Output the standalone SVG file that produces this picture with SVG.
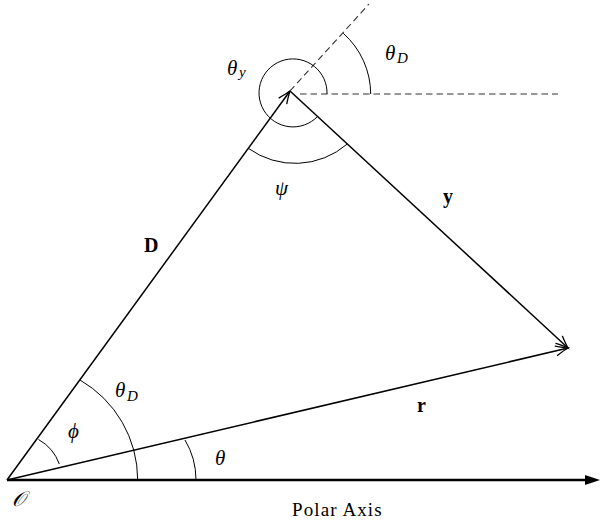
<svg xmlns="http://www.w3.org/2000/svg" width="601" height="522" viewBox="0 0 601 522">
<style>
.vec{stroke:#000;stroke-width:1.5;fill:none}
.arc{stroke:#000;stroke-width:1;fill:none}
.dash{stroke:#333;stroke-width:1.1;fill:none;stroke-dasharray:6.5 4}
.axis{stroke:#000;stroke-width:2.6;fill:none}
.m{font-family:"Liberation Serif","DejaVu Serif",serif;font-style:italic;font-size:21px;fill:#000}
.sub{font-family:"Liberation Serif","DejaVu Serif",serif;font-style:italic;font-size:15px;fill:#000}
.b{font-family:"Liberation Serif","DejaVu Serif",serif;font-weight:bold;font-size:20px;fill:#000}
.t{font-family:"Liberation Serif","DejaVu Serif",serif;font-size:19px;fill:#000;letter-spacing:1.1px}
</style>
<defs>
<marker id="open" viewBox="-14 -7 16 14" markerWidth="16" markerHeight="14" refX="0" refY="0" orient="auto" markerUnits="userSpaceOnUse" overflow="visible">
<path d="M -12,-4.8 Q -4,-1.2 0,0 Q -4,1.2 -12,4.8" stroke="#000" stroke-width="1.3" fill="none" stroke-linecap="round"/>
</marker>
<marker id="solid" viewBox="-6 -6 18 12" markerWidth="18" markerHeight="12" refX="0" refY="0" orient="auto" markerUnits="userSpaceOnUse" overflow="visible">
<path d="M -5,-5 L 10,0 L -5,5 z" fill="#000"/>
</marker>
</defs>
<g id="connectors">
<line id="polar-axis" class="axis" x1="7" y1="480" x2="590" y2="480" marker-end="url(#solid)"/>
<line id="vec-D" class="vec" x1="7" y1="480" x2="290" y2="91" marker-end="url(#open)"/>
<line id="vec-y" class="vec" x1="290" y1="91" x2="568" y2="348" marker-end="url(#open)"/>
<line id="vec-r" class="vec" x1="7" y1="480" x2="568" y2="348" marker-end="url(#open)"/>
<line id="dash-D" class="dash" x1="290" y1="91" x2="369" y2="4"/>
<line id="dash-h" class="dash" x1="300" y1="94" x2="558" y2="94"/>
</g>
<g id="arcs">
<path id="arc-phi" class="arc" d="M 38.5,439.5 A 46 46 0 0 1 59.3,464"/>
<path id="arc-thetaD-origin" class="arc" d="M 80,380 A 115.5 115.5 0 0 1 137.7,480"/>
<path id="arc-theta" class="arc" d="M 185,440 A 78 78 0 0 1 196,480"/>
<path id="arc-thetay" class="arc" d="M 327,94 A 34 34 0 1 0 317.6,116.4"/>
<path id="arc-thetaD-top" class="arc" d="M 343.3,33.3 A 82 82 0 0 1 370.7,94"/>
<path id="arc-psi" class="arc" d="M 248.3,148.3 A 80 80 0 0 0 347.3,144"/>
</g>
<g id="labels">
<g id="label-thetay"><text class="m" x="227" y="75">θ</text><text class="sub" x="239" y="77">y</text></g>
<g id="label-thetaD-top"><text class="m" x="385" y="60">θ</text><text class="sub" x="397" y="63">D</text></g>
<g id="label-psi"><text class="m" x="275" y="195">ψ</text></g>
<g id="label-y"><text class="b" x="443" y="203">y</text></g>
<g id="label-D"><text class="b" x="144" y="252">D</text></g>
<g id="label-thetaD-origin"><text class="m" x="115" y="397">θ</text><text class="sub" x="127" y="401">D</text></g>
<g id="label-phi"><text class="m" x="68" y="438">ϕ</text></g>
<g id="label-r"><text class="b" x="417" y="412">r</text></g>
<g id="label-theta"><text class="m" x="215" y="465">θ</text></g>
<g id="label-O"><text class="m" x="12" y="506">𝒪</text></g>
<g id="label-polar"><text class="t" x="292" y="516">Polar Axis</text></g>
</g>
</svg>
